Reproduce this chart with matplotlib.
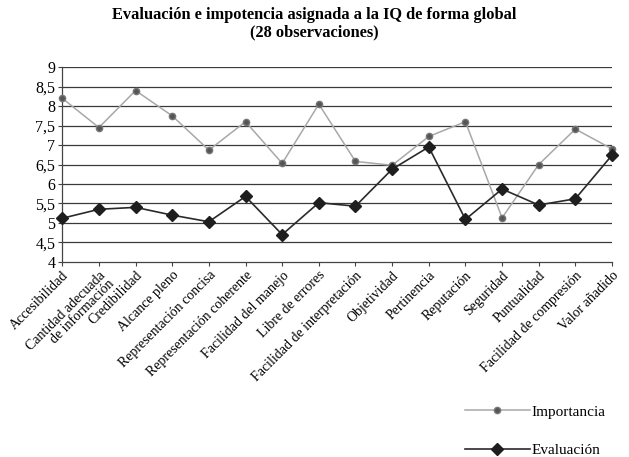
import matplotlib.pyplot as plt
from matplotlib.lines import Line2D

plt.rcParams['font.family'] = ['Liberation Serif', 'DejaVu Serif']

categorias = [
    "Accesibilidad", "Cantidad adecuada\nde información", "Credibilidad",
    "Alcance pleno", "Representación concisa", "Representación coherente",
    "Facilidad del manejo", "Libre de errores", "Facilidad de interpretación",
    "Objetividad", "Pertinencia", "Reputación", "Seguridad", "Puntualidad",
    "Facilidad de compresión", "Valor añadido",
]
importancia = [8.2, 7.45, 8.4, 7.75, 6.87, 7.6, 6.53, 8.05, 6.58, 6.48,
               7.22, 7.6, 5.13, 6.5, 7.41, 6.9]
evaluacion = [5.12, 5.35, 5.4, 5.2, 5.03, 5.68, 4.7, 5.52, 5.43, 6.38,
              6.95, 5.09, 5.87, 5.46, 5.62, 6.74]
y_ticks = [4, 4.5, 5, 5.5, 6, 6.5, 7, 7.5, 8, 8.5, 9]

fig = plt.figure(figsize=(6.29, 4.57), dpi=100)
ax = fig.add_axes([0.099, 0.427, 0.874, 0.426])

x = range(len(categorias))
for v in y_ticks[1:]:
    ax.axhline(v, color='#3a3a3a', lw=0.9, zorder=1)

imp_style = dict(color='#a8a8a8', lw=1.1, marker='o', markersize=4.5,
                 markerfacecolor='#555555', markeredgecolor='#777777')
eva_style = dict(color='#2a2a2a', lw=1.2, marker='D', markersize=6.5,
                 markerfacecolor='#1e1e1e', markeredgecolor='#1e1e1e')

ax.plot(x, importancia, clip_on=False, zorder=3, **imp_style)
ax.plot(x, evaluacion, clip_on=False, zorder=4, **eva_style)

ax.set_xlim(0, len(categorias) - 1)
ax.set_ylim(4, 9)
ax.set_yticks(y_ticks)
ax.set_yticklabels([f"{v:g}".replace('.', ',') for v in y_ticks], fontsize=11.5)
ax.set_xticks(list(x))
ax.set_xticklabels(categorias, rotation=45, ha='right', rotation_mode='anchor',
                   fontsize=10, linespacing=0.95)
ax.tick_params(axis='both', direction='out', length=3, color='#444444', pad=2)

for s in ['top', 'right']:
    ax.spines[s].set_visible(False)
for s in ['left', 'bottom']:
    ax.spines[s].set_color('#444444')
    ax.spines[s].set_linewidth(0.9)

fig.suptitle("Evaluación e impotencia asignada a la IQ de forma global\n(28 observaciones)",
             x=0.5, y=0.985, fontsize=11.8, fontweight='bold', linespacing=1.1)

handles = [Line2D([], [], **imp_style), Line2D([], [], **eva_style)]
fig.legend(handles, ["Importancia", "Evaluación"], loc='lower right',
           bbox_to_anchor=(0.985, -0.03), frameon=False, fontsize=11,
           handlelength=4.3, handletextpad=0.1, labelspacing=1.6)

fig.savefig("out.png", dpi=100, facecolor='white')
